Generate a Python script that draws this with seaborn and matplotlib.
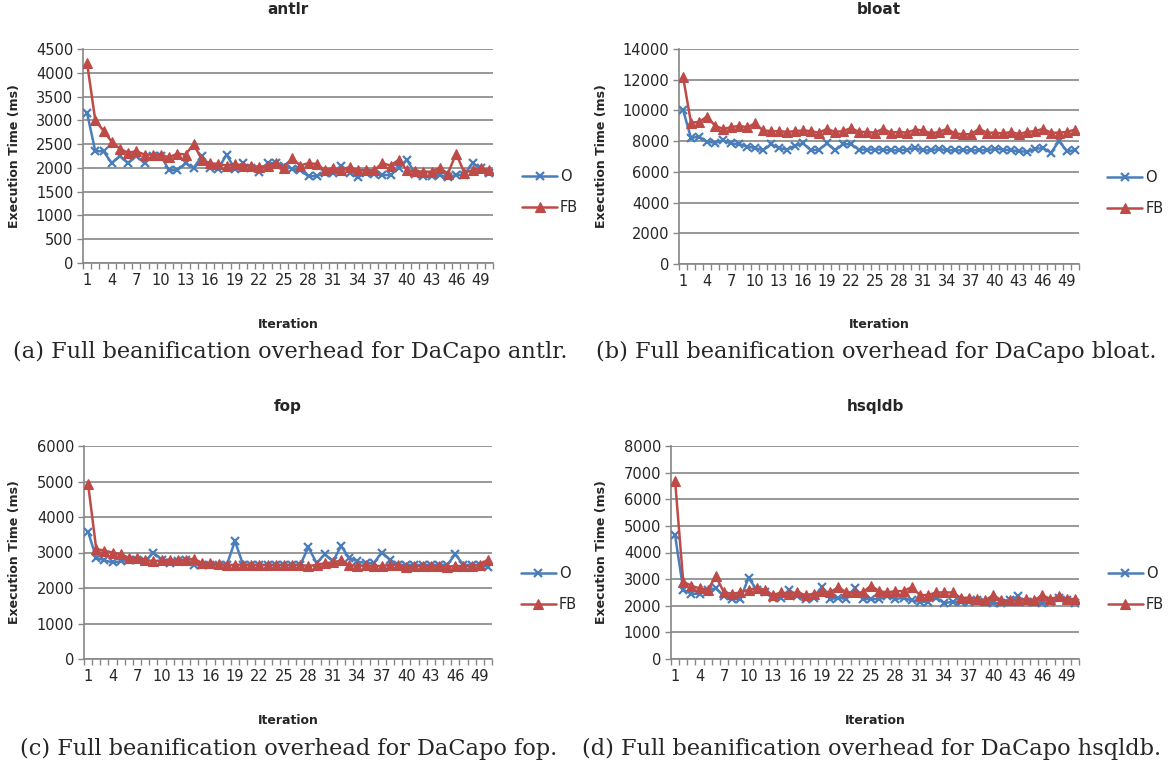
import seaborn as sns
import matplotlib
matplotlib.use("Agg")
import matplotlib.pyplot as plt
import pandas as pd
from matplotlib.ticker import FixedLocator

# Iterations 1..50 for every benchmark
iterations = list(range(1, 51))

# antlr
antlr_o = [3150, 2350, 2350, 2100, 2250, 2100, 2250, 2100, 2250, 2250,
           1950, 1950, 2100, 2000, 2250, 2000, 1980, 2280, 1980, 2100,
           2000, 1920, 2100, 2100, 2050, 1980, 1950, 1820, 1830, 1900,
           1900, 2050, 1900, 1800, 1900, 1880, 1850, 1850, 2000, 2170,
           1880, 1820, 1830, 1850, 1800, 1850, 1860, 2100, 2000, 1900]
antlr_fb = [4200, 3000, 2780, 2550, 2400, 2320, 2350, 2280, 2280, 2280,
            2220, 2300, 2280, 2500, 2170, 2100, 2080, 2050, 2080, 2050,
            2050, 2020, 2050, 2100, 2000, 2200, 2050, 2100, 2080, 1950,
            2000, 1950, 2020, 1950, 1950, 1950, 2100, 2050, 2170, 1950,
            1930, 1920, 1920, 2000, 1880, 2300, 1900, 1950, 2000, 1950]

# bloat
bloat_o = [10050, 8200, 8300, 7950, 7900, 8050, 7850, 7800, 7650, 7550,
           7400, 7800, 7550, 7450, 7700, 7850, 7400, 7450, 7850, 7400,
           7800, 7800, 7450, 7450, 7450, 7450, 7400, 7400, 7450, 7550,
           7400, 7400, 7500, 7400, 7400, 7400, 7400, 7400, 7400, 7500,
           7450, 7400, 7350, 7300, 7500, 7550, 7250, 8000, 7350, 7400]
bloat_fb = [12200, 9200, 9250, 9600, 9000, 8800, 8900, 9000, 8900, 9150,
            8700, 8650, 8650, 8600, 8650, 8700, 8650, 8550, 8800, 8600,
            8650, 8850, 8600, 8600, 8550, 8800, 8550, 8600, 8550, 8750,
            8700, 8500, 8600, 8800, 8500, 8450, 8450, 8800, 8550, 8550,
            8500, 8600, 8450, 8600, 8650, 8800, 8550, 8550, 8600, 8750]

# fop
fop_o = [3580, 2850, 2780, 2720, 2750, 2800, 2780, 2750, 3000, 2800,
         2700, 2750, 2800, 2650, 2650, 2650, 2650, 2650, 3320, 2650,
         2650, 2650, 2650, 2650, 2650, 2650, 2650, 3150, 2700, 2950,
         2750, 3180, 2850, 2750, 2700, 2700, 3000, 2800, 2650, 2650,
         2650, 2650, 2650, 2650, 2650, 2950, 2650, 2650, 2650, 2600]
fop_fb = [4930, 3100, 3050, 3000, 2950, 2850, 2850, 2800, 2750, 2780,
          2800, 2780, 2800, 2820, 2700, 2700, 2680, 2650, 2650, 2660,
          2650, 2650, 2650, 2650, 2650, 2650, 2650, 2620, 2650, 2700,
          2720, 2780, 2650, 2620, 2640, 2620, 2620, 2650, 2650, 2600,
          2620, 2620, 2620, 2620, 2600, 2620, 2620, 2620, 2650, 2800]

# hsqldb
hsqldb_o = [4650, 2600, 2450, 2450, 2600, 2650, 2350, 2250, 2250, 3050,
            2600, 2500, 2300, 2300, 2600, 2350, 2250, 2300, 2700, 2250,
            2300, 2250, 2650, 2250, 2250, 2250, 2350, 2250, 2300, 2200,
            2150, 2150, 2300, 2100, 2150, 2150, 2150, 2200, 2150, 2100,
            2100, 2200, 2350, 2150, 2150, 2100, 2150, 2300, 2200, 2100]
hsqldb_fb = [6700, 2900, 2750, 2650, 2600, 3100, 2500, 2450, 2500, 2600,
             2650, 2600, 2400, 2500, 2450, 2500, 2400, 2450, 2550, 2500,
             2700, 2500, 2500, 2500, 2750, 2550, 2500, 2550, 2550, 2700,
             2400, 2400, 2500, 2500, 2500, 2300, 2300, 2250, 2200, 2400,
             2200, 2200, 2200, 2250, 2200, 2400, 2250, 2350, 2250, 2250]

titles = ["antlr", "bloat", "fop", "hsqldb"]
y_max = [4500, 14000, 6000, 8000]
y_step = [500, 2000, 1000, 1000]
captions = ["(a) Full beanification overhead for DaCapo antlr.",
            "(b) Full beanification overhead for DaCapo bloat.",
            "(c) Full beanification overhead for DaCapo fop.",
            "(d) Full beanification overhead for DaCapo hsqldb."]
series = [(antlr_o, antlr_fb), (bloat_o, bloat_fb),
          (fop_o, fop_fb), (hsqldb_o, hsqldb_fb)]

sns.set_theme(style="white")
plt.rcParams["font.family"] = ["DejaVu Sans"]

W, H = 1168, 766
fig = plt.figure(figsize=(W / 100, H / 100), dpi=100)


def px(x, y):
    return x / W, 1 - y / H


# plot boxes in pixels: left, right, top, bottom
boxes = [(83, 493, 49, 263), (679, 1079, 49, 264),
         (84, 492, 446, 659), (671, 1079, 446, 659)]
ylabel_x = [15, 602, 15, 602]
grey = "#868686"
blue = "#4A7EBB"
red = "#BE4B48"

for i, (l, r, t, b) in enumerate(boxes):
    ax = fig.add_axes([l / W, 1 - b / H, (r - l) / W, (b - t) / H])
    o_vals, fb_vals = series[i]
    df = pd.DataFrame({"Iteration": iterations, "O": o_vals, "FB": fb_vals})

    sns.lineplot(data=df, x="Iteration", y="O", color=blue, marker="x",
                 markersize=6, markeredgewidth=1.6, markeredgecolor=blue,
                 linestyle="-", linewidth=1.8, label="O", ax=ax, zorder=3)
    sns.lineplot(data=df, x="Iteration", y="FB", color=red, marker="^",
                 markersize=6.5, markeredgecolor=red, markeredgewidth=0.8,
                 linestyle="-", linewidth=1.8, label="FB", ax=ax, zorder=3)

    ax.set_xlim(0.5, 50.5)
    ax.set_ylim(0, y_max[i])
    ax.set_yticks(range(0, y_max[i] + 1, y_step[i]))
    ax.set_xticks(iterations[::3])
    ax.xaxis.set_minor_locator(FixedLocator([k + 0.5 for k in range(0, 51)]))
    ax.tick_params(axis="x", which="major", length=0, labelsize=10.5, pad=7)
    ax.tick_params(axis="x", which="minor", length=4, width=1, color=grey,
                   direction="out", bottom=True)
    ax.tick_params(axis="y", length=4, width=1, color=grey, direction="out",
                   left=True, labelsize=10.5, pad=3)
    ax.yaxis.grid(True, color=grey, linewidth=1.2)
    ax.set_axisbelow(True)
    for s in ["top", "right"]:
        ax.spines[s].set_visible(False)
    for s in ["left", "bottom"]:
        ax.spines[s].set_color(grey)
        ax.spines[s].set_linewidth(1.2)
    ax.set_xlabel("")
    ax.set_ylabel("")

    leg_x = 439 / 410
    ax.legend(loc="center left", bbox_to_anchor=(leg_x, 0.33), frameon=False,
              fontsize=10.5, handlelength=2.4, handletextpad=0.2,
              labelspacing=1.1, borderpad=0, borderaxespad=0)

    cx = (l + r) / 2
    fig.text(*px(cx, t - 40), titles[i], ha="center", va="center",
             fontsize=11, fontweight="bold")
    fig.text(*px(ylabel_x[i], (t + b) / 2), "Execution Time (ms)",
             ha="center", va="center", rotation=90,
             fontsize=9, fontweight="bold")
    fig.text(*px(cx, b + 61), "Iteration", ha="center", va="center",
             fontsize=9, fontweight="bold")

# captions under each panel
cap_pos = [(290, 352), (876, 352), (289, 749), (872, 749)]
for (x, y), cap in zip(cap_pos, captions):
    fig.text(*px(x, y), cap, ha="center", va="center", fontsize=16.2,
             family="DejaVu Serif")

fig.savefig("out.png", dpi=100)
